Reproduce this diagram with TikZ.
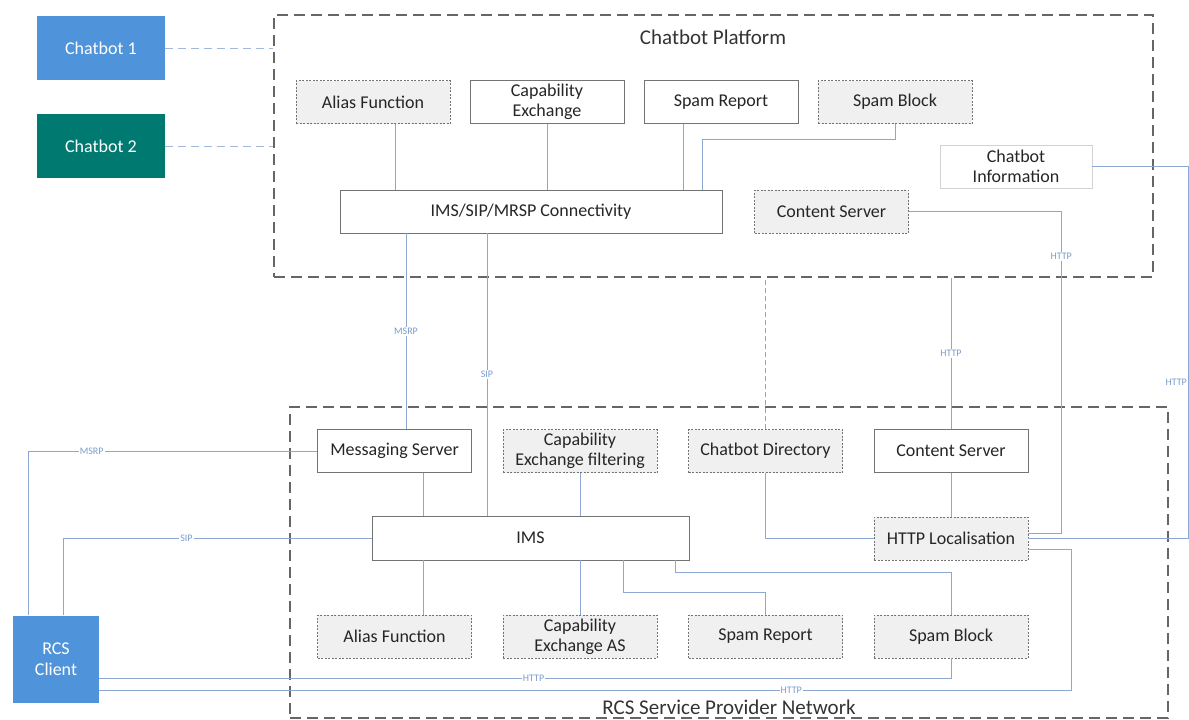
\documentclass[tikz,border=0pt]{standalone}
\usepackage{fontspec}
\setmainfont{Carlito}
\usepackage{tikz}
\definecolor{linkblue}{HTML}{8CA8D2}
\definecolor{labelblue}{HTML}{7C9CCB}
\definecolor{botblue}{HTML}{4F93DA}
\definecolor{botteal}{HTML}{007A70}
\definecolor{boxgray}{HTML}{F0F0F0}
\tikzstyle{bot} = [rectangle, minimum width=128pt, minimum height=64pt, align=center, text=white, font=\fontsize{18}{21}\selectfont]
\tikzstyle{block} = [rectangle, minimum width=154pt, minimum height=43pt, inner sep=0pt, align=center, draw=gray!90!black, fill=white, text=black!85, font=\fontsize{18}{20}\selectfont]
\tikzstyle{option} = [block, fill=boxgray, dash pattern=on 2pt off 1.5pt]
\tikzstyle{area} = [rectangle, inner sep=0pt, draw=gray!80!black, line width=1.8pt, dash pattern=on 11pt off 6pt]
\tikzstyle{link} = [draw=linkblue, line width=1pt]
\tikzstyle{proto} = [font=\fontsize{10}{10}\selectfont, text=labelblue, fill=white, inner sep=1pt]

\begin{document}
\begin{tikzpicture}[x=1pt, y=-1pt, node distance=185.5pt]
\useasboundingbox (0,0) rectangle (1189,720);
% the two networks
\node (platform) [area, minimum width=879pt, minimum height=262pt] at (713.5,146) {};
\node (network) [area, minimum width=878pt, minimum height=311pt] at (729,562.5) {};
\node (platformtitle) [text=black!80, font=\fontsize{21}{24}\selectfont] at (713,37) {Chatbot Platform};
\node (networktitle) [text=black!80, font=\fontsize{21}{24}\selectfont] at (729,707) {RCS Service Provider Network};
% chatbots and client
\node (cb1) [bot, fill=botblue] at (101,48) {Chatbot 1};
\node (cb2) [bot, fill=botteal, below of=cb1, node distance=98pt] {Chatbot 2};
\node (rcs) [bot, fill=botblue, minimum width=86pt, minimum height=87pt] at (56,659) {RCS\\Client};
% chatbot platform
\node (alias1) [option] at (373,102) {Alias Function};
\node (capex1) [block, right of=alias1, node distance=174pt] {Capability\\Exchange};
\node (spamrep1) [block, right of=capex1, node distance=174pt] {Spam Report};
\node (spamblk1) [option, right of=spamrep1, node distance=174pt] {Spam Block};
\node (imssip) [block, minimum width=382pt] at (531,211.5) {IMS/SIP/MRSP Connectivity};
\node (content1) [option] at (831.5,211.5) {Content Server};
\node (chatinfo) [block, draw=gray!35, minimum width=152pt] at (1016,166.5) {Chatbot\\Information};
% service provider network
\node (msgsrv) [block] at (394.5,451) {Messaging Server};
\node (capfilt) [option, right of=msgsrv] {Capability\\Exchange filtering};
\node (chatdir) [option, right of=capfilt] {Chatbot Directory};
\node (content2) [block, right of=chatdir] {Content Server};
\node (ims) [block, minimum width=317pt, minimum height=44pt] at (530.5,538) {IMS};
\node (httploc) [option, below of=content2, node distance=87.5pt] {HTTP Localisation};
\node (alias2) [option] at (394.5,636.5) {Alias Function};
\node (capas) [option, right of=alias2] {Capability\\Exchange AS};
\node (spamrep2) [option, right of=capas] {Spam Report};
\node (spamblk2) [option, right of=spamrep2] {Spam Block};
% links
\draw [link, draw=linkblue!80, dash pattern=on 8pt off 5pt] (cb1.east) -- (cb1.east -| platform.west);
\draw [link, draw=linkblue!80, dash pattern=on 8pt off 5pt] (cb2.east) -- (cb2.east -| platform.west);
\draw [link] ([xshift=22pt]alias1.south) -- ([xshift=22pt]alias1.south |- imssip.north);
\draw [link] (capex1.south) -- (capex1.south |- imssip.north);
\draw [link] ([xshift=-38pt]spamrep1.south) -- ([xshift=-38pt]spamrep1.south |- imssip.north);
\draw [link] (spamblk1.south) -- ++(0,16) -| ([xshift=171pt]imssip.north);
\draw [link] (chatinfo.east) -| node[proto, pos=0.79, xshift=-12pt] {HTTP} ([xshift=160pt]httploc.east) -- (httploc.east);
\draw [link] (content1.east) -| node[proto, pos=0.57] {HTTP} ([xshift=33pt, yshift=5.5pt]httploc.east) -- ([yshift=5.5pt]httploc.east);
\draw [link] ([xshift=11.5pt]msgsrv.north |- imssip.south) -- node[proto] {MSRP} ([xshift=11.5pt]msgsrv.north);
\draw [link] ([xshift=-44pt]imssip.south) -- node[proto] {SIP} ([xshift=-44pt]imssip.south |- ims.north);
\draw [link, dash pattern=on 5pt off 3pt] (chatdir.north) -- (chatdir.north |- platform.south);
\draw [link] (content2.north) -- node[proto] {HTTP} (content2.north |- platform.south);
\draw [link] ([xshift=28.5pt]msgsrv.south) -- ([xshift=28.5pt]msgsrv.south |- ims.north);
\draw [link] (capfilt.south) -- (capfilt.south |- ims.north);
\draw [link] ([xshift=28.5pt]alias2.north) -- ([xshift=28.5pt]alias2.north |- ims.south);
\draw [link] (capas.north) -- (capas.north |- ims.south);
\draw [link] ([xshift=92.5pt]ims.south) -- ++(0,32) -| (spamrep2.north);
\draw [link] ([xshift=144.5pt]ims.south) -- ++(0,12) -| (spamblk2.north);
\draw [link] (chatdir.south) |- (httploc.west);
\draw [link] (content2.south) -- (httploc.north);
\draw [link] ([xshift=-28pt]rcs.north) |- node[proto, pos=0.61] {MSRP} (msgsrv.west);
\draw [link] ([xshift=7pt]rcs.north) |- node[proto, pos=0.70] {SIP} (ims.west);
\draw [link] ([yshift=-19pt]rcs.east) -| node[proto, pos=0.255] {HTTP} (spamblk2.south);
\draw [link] ([yshift=-31pt]rcs.east) -| node[proto, pos=0.356] {HTTP} ([xshift=43pt, yshift=-10.5pt]httploc.east) -- ([yshift=-10.5pt]httploc.east);
\end{tikzpicture}
\end{document}
